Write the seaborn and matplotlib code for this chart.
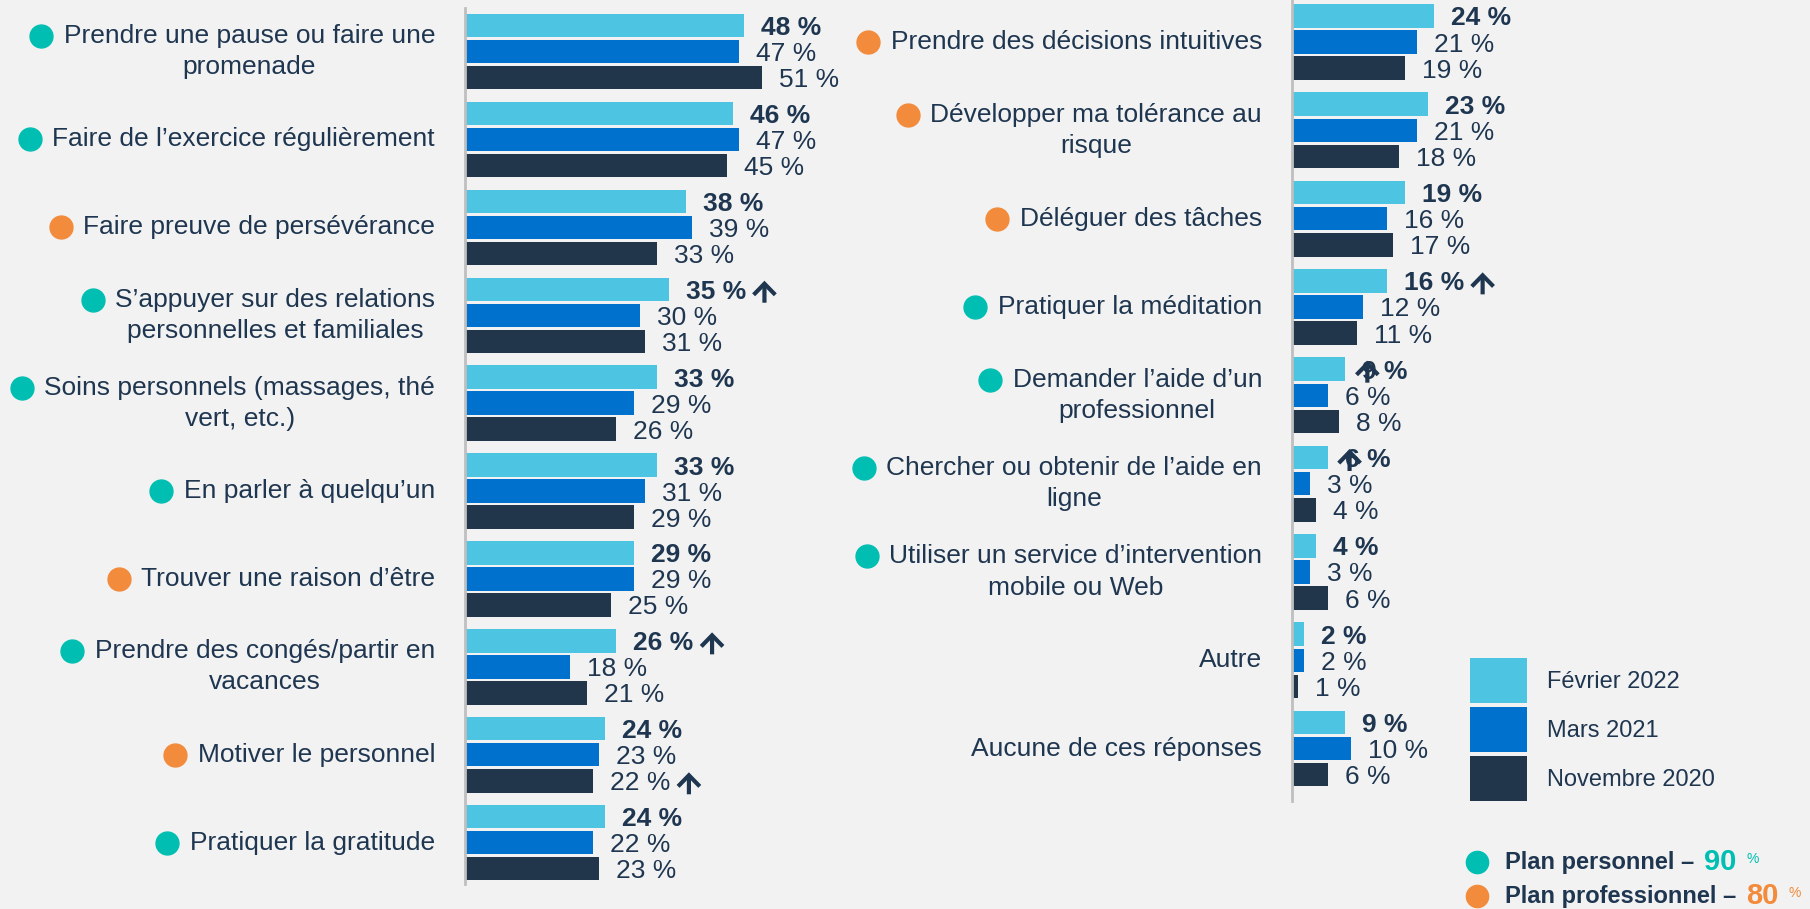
import numpy as np
import pandas as pd
import matplotlib
matplotlib.use("Agg")
import matplotlib.pyplot as plt
import seaborn as sns
from matplotlib.patches import Patch
from matplotlib.lines import Line2D

# ---------------- data ----------------
periods = ["Février 2022", "Mars 2021", "Novembre 2020"]

left_categories = [
    "Prendre une pause ou faire une\npromenade",
    "Faire de l’exercice régulièrement",
    "Faire preuve de persévérance",
    "S’appuyer sur des relations\npersonnelles et familiales",
    "Soins personnels (massages, thé\nvert, etc.)",
    "En parler à quelqu’un",
    "Trouver une raison d’être",
    "Prendre des congés/partir en\nvacances",
    "Motiver le personnel",
    "Pratiquer la gratitude",
]
left_plan = ["perso", "perso", "pro", "perso", "perso", "perso", "pro", "perso", "pro", "perso"]
left_feb2022 = [48, 46, 38, 35, 33, 33, 29, 26, 24, 24]
left_mar2021 = [47, 47, 39, 30, 29, 31, 29, 18, 23, 22]
left_nov2020 = [51, 45, 33, 31, 26, 29, 25, 21, 22, 23]
left_arrows = [(3, 0, "after"), (7, 0, "after"), (8, 2, "after")]

right_categories = [
    "Prendre des décisions intuitives",
    "Développer ma tolérance au\nrisque",
    "Déléguer des tâches",
    "Pratiquer la méditation",
    "Demander l’aide d’un\nprofessionnel",
    "Chercher ou obtenir de l’aide en\nligne",
    "Utiliser un service d’intervention\nmobile ou Web",
    "Autre",
    "Aucune de ces réponses",
]
right_plan = ["pro", "pro", "pro", "perso", "perso", "perso", "perso", None, None]
right_feb2022 = [24, 23, 19, 16, 9, 6, 4, 2, 9]
right_mar2021 = [21, 21, 16, 12, 6, 3, 3, 2, 10]
right_nov2020 = [19, 18, 17, 11, 8, 4, 6, 1, 6]
right_arrows = [(3, 0, "after"), (4, 0, "over"), (5, 0, "over")]

plan_legend = [("Plan personnel –", "90", "perso"), ("Plan professionnel –", "80", "pro")]

# ---------------- style ----------------
bar_colors = ["#4dc4e2", "#0071cd", "#21364a"]
text_color = "#1f3650"
dot_colors = {"perso": "#00bfb2", "pro": "#f28b3b"}
bg = "#f2f2f2"

sns.set_theme(style="white", rc={"figure.facecolor": bg, "axes.facecolor": bg,
                                 "savefig.facecolor": bg})
plt.rcParams["font.family"] = ["Liberation Sans", "DejaVu Sans"]

W, H = 1810, 909
fig = plt.figure(figsize=(W / 100, H / 100), dpi=100)
renderer = fig.canvas.get_renderer()


def px_axes(x0, ytop, x1, ybot):
    return fig.add_axes([x0 / W, 1 - ybot / H, (x1 - x0) / W, (ybot - ytop) / H])


def to_fig(x, y):
    return x / W, y / H


LABEL_FS = 19
VALUE_FS = 19
LINESPACING = 1.38


def draw_arrow(ax, x, yc):
    # upward arrow, ~22 px tall, drawn in figure pixels
    ax.annotate("", xy=(x, yc + 11), xytext=(x, yc - 11),
                xycoords="figure pixels", textcoords="figure pixels",
                annotation_clip=False,
                arrowprops=dict(arrowstyle="->,head_length=0.8,head_width=0.78",
                                mutation_scale=10, lw=3.0, color=text_color,
                                shrinkA=0, shrinkB=0, capstyle="butt",
                                joinstyle="miter"))


def draw_panel(ax, cats, plans, vals, arrows, ylim, xmax):
    df = pd.DataFrame({
        "Catégorie": cats * 3,
        "Période": [p for p in periods for _ in cats],
        "Valeur": list(vals[0]) + list(vals[1]) + list(vals[2]),
    })
    sns.barplot(data=df, x="Valeur", y="Catégorie", hue="Période", order=cats,
                hue_order=periods, palette=bar_colors, orient="h", width=0.888,
                gap=0.1, saturation=1, ax=ax, legend=False, linewidth=0)
    ax.set_xlim(0, xmax)
    ax.set_ylim(*ylim)
    ax.patch.set_visible(False)
    for s in ["top", "right", "bottom"]:
        ax.spines[s].set_visible(False)
    ax.spines["left"].set_color("#bfbfbf")
    ax.spines["left"].set_linewidth(2)
    ax.set_xticks([])
    ax.set_yticks([])
    ax.set_xlabel("")
    ax.set_ylabel("")

    # value labels
    vtexts = {}
    for k, cont in enumerate(ax.containers):
        for i, bar in enumerate(cont):
            y = bar.get_y() + bar.get_height() / 2
            t = ax.annotate(f"{vals[k][i]} %", xy=(bar.get_width(), y),
                            xytext=(17 * 0.72, 0), textcoords="offset points",
                            ha="left", va="center_baseline", fontsize=VALUE_FS,
                            fontweight="bold" if k == 0 else "normal",
                            color=text_color)
            vtexts[(i, k)] = t

    # category labels and plan dots
    for i, (c, p) in enumerate(zip(cats, plans)):
        t = ax.annotate(c, xy=(0, i), xycoords=("axes fraction", "data"),
                        xytext=(-30 * 0.72, 0), textcoords="offset points",
                        ha="right", va="center", multialignment="center",
                        fontsize=LABEL_FS, color=text_color,
                        linespacing=LINESPACING)
        if p is None:
            continue
        bb = t.get_window_extent(renderer)
        lines = c.split("\n")
        tmp = fig.text(0, 0, lines[0], fontsize=LABEL_FS)
        tb = tmp.get_window_extent(renderer)
        tmp.remove()
        left = bb.x1 - bb.width / 2 - tb.width / 2
        yc = bb.y1 - tb.height / 2
        fx, fy = to_fig(left - 22.5, yc)
        fig.add_artist(Line2D([fx], [fy], transform=fig.transFigure, marker="o",
                              markersize=16.5, color=dot_colors[p], linestyle="none"))

    # arrows
    for i, k, mode in arrows:
        bb = vtexts[(i, k)].get_window_extent(renderer)
        x = bb.x1 + 8 + 10.5 if mode == "after" else bb.x0 + 5
        y = (bb.y0 + bb.y1) / 2
        draw_arrow(ax, x, y)


axL = px_axes(465, 8, 465 + 5.82 * 60, 884)
draw_panel(axL, left_categories, left_plan,
           [left_feb2022, left_mar2021, left_nov2020], left_arrows,
           (9.47, -0.495), 60)

axR = px_axes(1292, 0, 1292 + 5.93 * 60, 800.7)
draw_panel(axR, right_categories, right_plan,
           [right_feb2022, right_mar2021, right_nov2020], right_arrows,
           (8.59, -0.476), 60)

# period legend
fig.legend(handles=[Patch(facecolor=c, edgecolor="none") for c in bar_colors],
           labels=periods, loc="upper left",
           bbox_to_anchor=(1470 / W, 1 - 658 / H), frameon=False, fontsize=17,
           handlelength=2.41, handleheight=2.555, labelspacing=0.17,
           handletextpad=0.85, borderpad=0, borderaxespad=0,
           labelcolor=text_color)

# plan legend
for row, (lab, pct, key) in enumerate(plan_legend):
    yc = H - (862 + 34 * row)
    col = dot_colors[key]
    fig.add_artist(Line2D([1477 / W], [yc / H], transform=fig.transFigure, marker="o",
                          markersize=16, color=col, linestyle="none"))
    t1 = fig.text(1505 / W, yc / H, lab, ha="left", va="center",
                  fontsize=17, fontweight="bold", color=text_color)
    x = t1.get_window_extent(renderer).x1 + 10
    t2 = fig.text(x / W, yc / H, pct, ha="left", va="center",
                  fontsize=21, fontweight="bold", color=col)
    x = t2.get_window_extent(renderer).x1 + 10
    fig.text(x / W, (yc + 3) / H, "%", ha="left", va="center",
             fontsize=10, color=col)

fig.savefig("out.png", dpi=100)
